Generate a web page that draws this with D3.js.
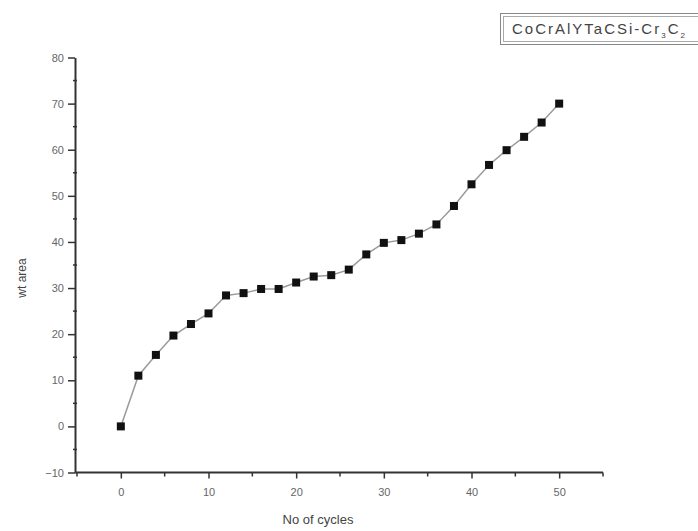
<!DOCTYPE html>
<html>
<head>
<meta charset="utf-8">
<script src="https://cdn.jsdelivr.net/npm/d3@7/dist/d3.min.js"></script>
<style>
html,body{margin:0;padding:0;background:#fff;}
svg{display:block;}
</style>
</head>
<body>
<svg id="chart" width="698" height="531"></svg>
<script>
const cycles = [0,2,4,6,8,10,12,14,16,18,20,22,24,26,28,30,32,34,36,38,40,42,44,46,48,50];
const wtArea = [0,11,15.5,19.7,22.2,24.5,28.4,28.9,29.8,29.8,31.2,32.5,32.8,34,37.3,39.8,40.4,41.8,43.8,47.8,52.5,56.7,59.9,62.8,65.9,70];
const xTicks = [0,10,20,30,40,50];
const yTicks = [-10,0,10,20,30,40,50,60,70,80];
const xMinor = [-5,5,15,25,35,45,55];
const yMinor = [-5,5,15,25,35,45,55,65,75];
const xTitle = "No of cycles";
const yTitle = "wt area";

const svg = d3.select("#chart");
const x = d3.scaleLinear().domain([-5,55]).range([77,603]);
const y = d3.scaleLinear().domain([-10,80]).range([472.5,57.5]);
const axisColor = "#333";
const labelColor = "#666";
const font = "Liberation Sans, Arial, sans-serif";

// X axis
const gx = svg.append("g").attr("transform", `translate(0,${y(-10)})`);
gx.call(d3.axisBottom(x).tickValues(xTicks).tickSize(6).tickSizeOuter(0).tickPadding(10).tickFormat(d3.format("d")));
gx.select(".domain").attr("d", `M${75},0H${x(55)}`);
gx.selectAll(".domain").attr("stroke", axisColor).attr("stroke-width", 2);
gx.selectAll(".tick line").attr("stroke", axisColor).attr("stroke-width", 1.5);
gx.selectAll(".tick text").attr("fill", labelColor).attr("font-size", 11).attr("font-family", font);
gx.selectAll(".minor").data(xMinor).enter().append("line")
  .attr("x1", d => x(d)).attr("x2", d => x(d)).attr("y1", 0).attr("y2", 4)
  .attr("stroke", axisColor).attr("stroke-width", 1.5);

// Y axis
const gy = svg.append("g").attr("transform", `translate(75,0)`);
gy.call(d3.axisLeft(y).tickValues(yTicks).tickSize(7).tickSizeOuter(0).tickPadding(4).tickFormat(d3.format("d")));
gy.selectAll(".domain").attr("stroke", axisColor).attr("stroke-width", 2);
gy.selectAll(".tick line").attr("stroke", axisColor).attr("stroke-width", 1.5);
gy.selectAll(".tick text").attr("fill", labelColor).attr("font-size", 11).attr("font-family", font);
gy.selectAll(".minor").data(yMinor).enter().append("line")
  .attr("x1", -2).attr("x2", 2).attr("y1", d => y(d)).attr("y2", d => y(d))
  .attr("stroke", axisColor).attr("stroke-width", 1.5);

// Titles
svg.append("text").attr("x", 318).attr("y", 524).attr("text-anchor", "middle")
  .attr("font-size", 13).attr("font-family", font).attr("fill", "#444").text(xTitle);
svg.append("text").attr("transform", `translate(26,278) rotate(-90)`).attr("text-anchor", "middle")
  .attr("font-size", 12).attr("font-family", font).attr("fill", "#444").text(yTitle);

// Line
const line = d3.line().x((d,i) => x(cycles[i])).y(d => y(d));
svg.append("path").datum(wtArea).attr("d", line)
  .attr("fill", "none").attr("stroke", "#9a9a9a").attr("stroke-width", 1.5);

// Markers
const s = 8;
svg.selectAll(".pt").data(wtArea).enter().append("rect")
  .attr("x", (d,i) => x(cycles[i]) - s/2).attr("y", d => y(d) - s/2)
  .attr("width", s).attr("height", s).attr("fill", "#111");

// Legend box
const lg = svg.append("g");
lg.append("rect").attr("x", 500.5).attr("y", 13.5).attr("width", 220).attr("height", 31)
  .attr("fill", "#fff").attr("stroke", "#888").attr("stroke-width", 1);
lg.append("rect").attr("x", 503.5).attr("y", 16.5).attr("width", 220).attr("height", 25)
  .attr("fill", "none").attr("stroke", "#aaa").attr("stroke-width", 1);
const lt = lg.append("text").attr("x", 512).attr("y", 34).attr("font-size", 15)
  .attr("letter-spacing", 2).attr("font-family", font).attr("fill", "#444");
lt.append("tspan").text("CoCrAlYTaCSi-Cr");
lt.append("tspan").attr("font-size", 8).attr("dy", 4).text("3");
lt.append("tspan").attr("dy", -4).text("C");
lt.append("tspan").attr("font-size", 8).attr("dy", 4).text("2");
</script>
</body>
</html>
